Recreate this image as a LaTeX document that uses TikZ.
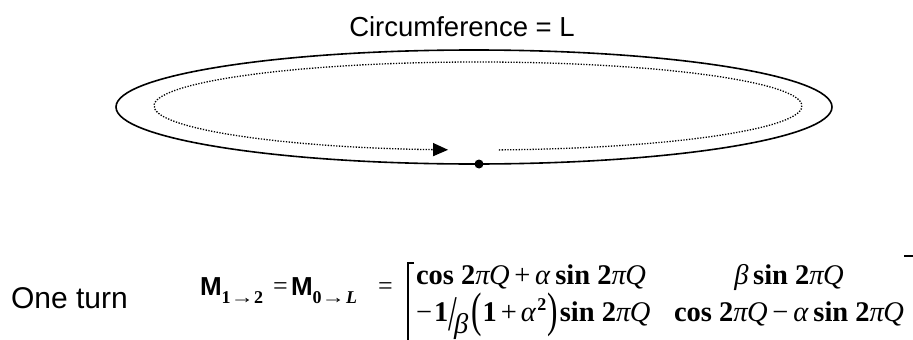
\documentclass[tikz,border=0pt]{standalone}
\usepackage{fontspec}
\usepackage{graphicx}
\setmainfont{Liberation Serif}
\newfontfamily\arialf{Liberation Sans}
\usetikzlibrary{arrows.meta,shapes.geometric}
\newcommand\piq{\textit{π\kern-0.6ptQ}}
\newcommand\mfs{\fontsize{28.5}{32}\selectfont}
\newcommand\subfs{\fontsize{18}{21}\selectfont}
\newcommand\sarr{\scalebox{1.3}[1]{→}}
\newcommand\bigpar[1]{\raisebox{-5pt}{\scalebox{1.1}[1.7]{#1}}}
\begin{document}
\begin{tikzpicture}[x=1pt,y=1pt,
  txt/.style={inner sep=0pt, outer sep=0pt},
  mat/.style={txt, font=\mfs},
  bigM/.style={txt, font=\arialf\bfseries\fontsize{26}{30}\selectfont},
  eqs/.style={txt, font=\fontsize{26}{30}\selectfont},
  ring/.style={draw, line width=1.6pt, ellipse, minimum width=716pt, minimum height=114pt, inner sep=0pt},
  orbit/.style={line width=1.3pt, dash pattern=on 1.3pt off 1.5pt, -{Triangle[length=15pt,width=13pt]}},
  startdot/.style={circle, fill=black, inner sep=0pt, minimum size=9pt},
  brack/.style={line width=1.1pt}
]
\useasboundingbox (0,0) rectangle (913,-340);
% ring
\node[txt, anchor=base, font=\arialf\fontsize{27.5}{30}\selectfont] (title) at (462,-36) {Circumference = L};
\node[ring] (ring) at (474,-107) {};
\coordinate (oc) at (478,-106);
\coordinate (os) at ([shift={(-86.3:324 and 44)}]oc);
\draw[orbit] (os) arc[start angle=-86.3, end angle=264.7, x radius=324, y radius=44];
\node[startdot] (dot) at (479,-164) {};
% equation
\node[txt, anchor=base west, font=\arialf\fontsize{30}{34}\selectfont] (turn) at (11,-308) {One turn};
\node[bigM, anchor=base west] (ma) at (200,-295) {M\raisebox{-8pt}{\rmfamily\subfs\bfseries 1\sarr 2}};
\node[eqs, anchor=base west] (eqa) at (273,-294) {=};
\node[bigM, anchor=base west] (mb) at (291,-295) {M\raisebox{-8pt}{\rmfamily\subfs\textbf{0\sarr}\kern1pt\textit{L}}};
\node[eqs, anchor=base west] (eqb) at (378,-294) {=};
\coordinate (lbt) at (408,-263);
\coordinate (lbk) at (414,-263);
\coordinate (lbb) at (408,-340);
\draw[brack] (lbk) -- (lbt) -- (lbb);
\coordinate (rba) at (904,-256);
\coordinate (rbb) at (913,-256);
\draw[brack] (rba) -- (rbb);
\node[mat, anchor=base west] (m11) at (416,-284) {\textbf{cos 2}\piq\,+\,\textit{α}\,\textbf{sin 2}\piq};
\node[mat, anchor=base] (m12) at (789,-284) {\textit{β}\,\textbf{sin 2}\piq};
\node[mat, anchor=base west] (m21) at (416,-321) {−\kern2pt\textbf{1}\kern0pt\raisebox{-9pt}{\scalebox{1.1}[1.75]{/}}\kern-3pt\raisebox{-12pt}{\textit{β}}\kern3pt\bigpar{(}\kern1pt\textbf{1}\kern4pt+\kern4pt\textit{α}\kern1pt\raisebox{11pt}{\subfs\textbf{2}}\kern1pt\bigpar{)}\kern2pt\textbf{sin 2}\piq};
\node[mat, anchor=base] (m22) at (789,-321) {\textbf{cos 2}\piq\,−\,\textit{α}\,\textbf{sin 2}\piq};
\end{tikzpicture}
\end{document}
